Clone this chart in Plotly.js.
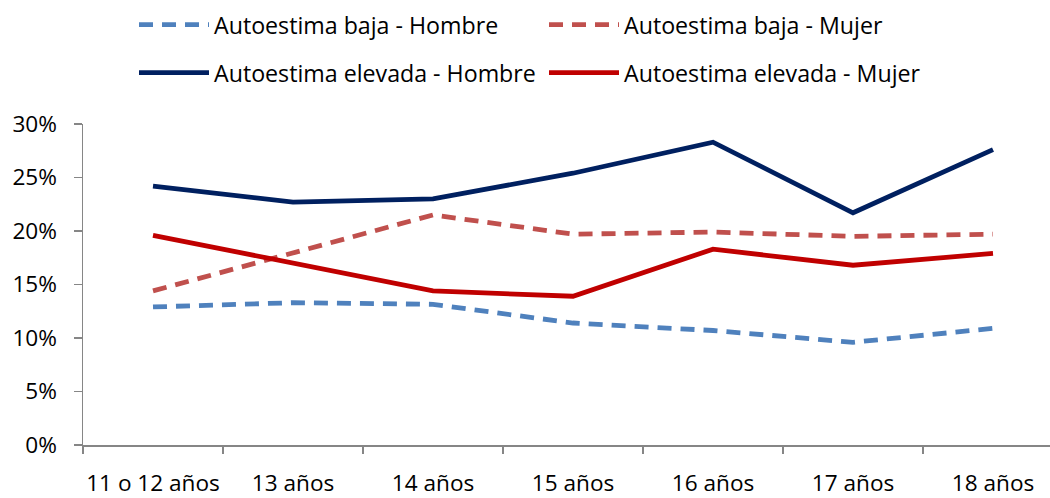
<!DOCTYPE html>
<html>
<head>
<meta charset="utf-8">
<script src="https://cdn.plot.ly/plotly-3.0.1.min.js"></script>
<style>
html,body{margin:0;padding:0;overflow:hidden;background:#fff;}
#chart{width:1064px;height:498px;}
</style>
</head>
<body>
<div id="chart"></div>
<script>
const categories = ["11 o 12 años","13 años","14 años","15 años","16 años","17 años","18 años"];
const bajaHombre   = [12.9, 13.3, 13.15, 11.4, 10.7, 9.6, 10.9];
const bajaMujer    = [14.4, 17.9, 21.5, 19.7, 19.9, 19.5, 19.7];
const elevadaHombre= [24.2, 22.7, 23.0, 25.4, 28.3, 21.7, 27.6];
const elevadaMujer = [19.6, 17.0, 14.4, 13.9, 18.3, 16.8, 17.9];
const seriesNames = ["Autoestima baja - Hombre","Autoestima baja - Mujer","Autoestima elevada - Hombre","Autoestima elevada - Mujer"];
const yTicks = [0,5,10,15,20,25,30];

const FONT = "'Open Sans', sans-serif";
const traces = [
  {x:categories, y:bajaHombre, name:seriesNames[0], type:'scatter', mode:'lines',
   line:{color:'#4F81BD', width:4.8, dash:'14px,9px'}, legend:'legend'},
  {x:categories, y:bajaMujer, name:seriesNames[1], type:'scatter', mode:'lines',
   line:{color:'#C0504D', width:4.8, dash:'14px,9px'}, legend:'legend2'},
  {x:categories, y:elevadaHombre, name:seriesNames[2], type:'scatter', mode:'lines',
   line:{color:'#002060', width:4.8}, legend:'legend3'},
  {x:categories, y:elevadaMujer, name:seriesNames[3], type:'scatter', mode:'lines',
   line:{color:'#C00000', width:4.8}, legend:'legend4'}
];

function leg(xpx, ypx){
  return {
    orientation:'h', xref:'container', yref:'container', xanchor:'left', yanchor:'middle',
    x:xpx/1064, y:1-ypx/498,
    font:{family:FONT, size:23.2, color:'#000'}, itemwidth:70,
    bgcolor:'rgba(0,0,0,0)', borderwidth:0
  };
}

const layout = {
  width:1064, height:498,
  margin:{l:83, r:1, t:124, b:53},
  paper_bgcolor:'#fff', plot_bgcolor:'#fff',
  showlegend:true,
  legend:leg(134,25),
  legend2:leg(544,25),
  legend3:leg(134,73),
  legend4:leg(544,73),
  xaxis:{type:'category', showgrid:false, zeroline:false, showline:true, linecolor:'#868686', linewidth:1.5,
    ticks:'outside', tickson:'boundaries', ticklen:7, tickcolor:'#868686', tickwidth:1.5, tickangle:0,
    tickfont:{family:FONT, size:22.6, color:'#000'}, ticklabelstandoff:17, range:[-0.5,6.5], fixedrange:true},
  yaxis:{range:[0,30], tickvals:yTicks, ticktext:yTicks.map(v=>v+'%'), showgrid:false, zeroline:false,
    showline:true, linecolor:'#868686', linewidth:1.5, ticks:'outside', ticklen:8, tickcolor:'#868686', tickwidth:1.5,
    tickfont:{family:FONT, size:22.6, color:'#000'}, ticklabelstandoff:12, fixedrange:true}
};

Plotly.newPlot('chart', traces, layout, {displayModeBar:false, staticPlot:true});
</script>
</body>
</html>
